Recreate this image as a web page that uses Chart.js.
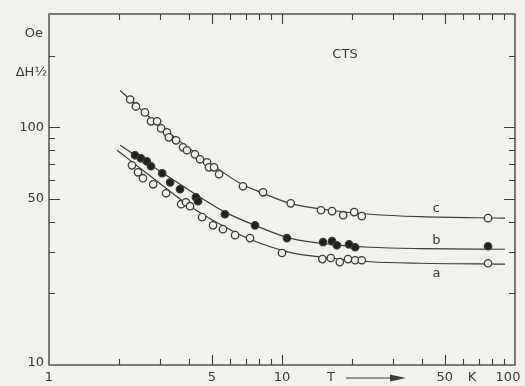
<!DOCTYPE html>
<html>
<head>
<meta charset="utf-8">
<script src="https://cdn.jsdelivr.net/npm/chart.js@4.4.1/dist/chart.umd.min.js"></script>
<style>
  html, body { margin: 0; padding: 0; background: #f3f1ec; }
  canvas { display: block; }
</style>
</head>
<body>
<canvas id="chart" width="525" height="386"></canvas>
<script>
  // linewidth ΔH½ (Oe) against temperature T (K), three samples a, b, c
  const cTemp = [2.23, 2.36, 2.58, 2.74, 2.91, 3.03, 3.21, 3.27, 3.51, 3.76, 3.91, 4.23, 4.45, 4.77, 4.86, 5.11, 5.37, 6.80, 8.29, 10.9, 14.7, 16.4, 18.3, 20.4, 22.0, 76.6];
  const cWidth = [131, 122.5, 115.6, 106, 106, 99, 95.3, 90.8, 88.2, 82.4, 80.1, 77.0, 73.4, 71.3, 67.9, 67.9, 63.5, 56.5, 53.3, 47.9, 44.8, 44.4, 42.7, 44.0, 42.3, 41.5];

  const bTemp = [2.34, 2.48, 2.63, 2.74, 3.06, 3.31, 3.65, 4.27, 4.36, 5.69, 7.66, 10.5, 15.0, 16.4, 17.2, 19.4, 20.6, 76.6];
  const bWidth = [76.3, 74.1, 71.9, 68.6, 64.1, 58.7, 54.9, 50.8, 48.9, 43.1, 38.7, 34.2, 32.9, 33.2, 31.9, 32.2, 31.3, 31.6];

  const aTemp = [2.27, 2.41, 2.53, 2.80, 3.18, 3.69, 3.87, 4.03, 4.54, 5.06, 5.58, 6.29, 7.29, 10.0, 14.9, 16.2, 17.7, 19.2, 20.6, 22.0, 76.6];
  const aWidth = [69.2, 64.7, 61.1, 57.6, 52.8, 47.5, 48.4, 46.6, 41.9, 38.7, 37.3, 35.2, 34.2, 29.6, 27.9, 28.2, 27.1, 27.9, 27.6, 27.6, 26.8];

  // smooth curves through each set
  const cFitTemp = [2.02, 2.71, 3.65, 4.45, 5.42, 6.60, 8.29, 10.8, 16.1, 23.9, 39.1, 90.6];
  const cFitWidth = [143, 110, 87.3, 75.5, 66.0, 58.2, 52.8, 47.9, 44.8, 43.1, 42.1, 41.5];
  const bFitTemp = [2.02, 3.0, 4.45, 5.69, 7.66, 10.8, 16.1, 23.9, 39.1, 90.6];
  const bFitWidth = [84.0, 65.3, 50.8, 44.0, 38.7, 34.2, 32.2, 31.3, 30.9, 30.7];
  const aFitTemp = [1.96, 2.80, 4.03, 5.42, 7.29, 10.8, 16.1, 23.9, 39.1, 90.6];
  const aFitWidth = [80.1, 61.1, 46.6, 39.1, 33.8, 29.8, 28.2, 27.2, 26.8, 26.6];

  const xLabels = [1, 5, 10, 50, 100];
  const xLongTicks = [5, 10, 50];
  const xMinorTicks = [2, 3, 4, 6, 7, 8, 9, 20, 30, 40, 60, 70, 80, 90];
  const yLabels = [10, 50, 100];
  const yLongTicks = [50, 100];
  const yMinorTicks = [20, 30, 40, 60, 70, 80, 90, 200];

  const curveNames = ["c", "b", "a"];
  const curveNameAt = [45.7, 33.5, 24.3];

  const paper = "#f3f1ec";
  const ink = "#3b3b3b";
  const font = "'DejaVu Sans', 'Liberation Sans', sans-serif";

  const pts = (xs, ys) => xs.map((v, i) => ({ x: v, y: ys[i] }));

  const fit = (xs, ys) => ({
    data: pts(xs, ys),
    borderColor: ink,
    borderWidth: 1.2,
    pointRadius: 0,
    cubicInterpolationMode: "monotone",
    showLine: true,
    order: 2
  });

  const marks = (xs, ys, filled) => ({
    data: pts(xs, ys),
    showLine: false,
    pointStyle: "circle",
    pointRadius: 3.7,
    borderWidth: 1.3,
    borderColor: ink,
    backgroundColor: filled ? "#1f1f1f" : paper,
    order: 1
  });

  const frame = {
    id: "frame",
    beforeDraw(chart) {
      const ctx = chart.ctx;
      ctx.save();
      ctx.fillStyle = paper;
      ctx.fillRect(0, 0, chart.width, chart.height);
      ctx.restore();
    },
    afterDraw(chart) {
      const { ctx, chartArea: a, scales: { x, y } } = chart;
      ctx.save();
      ctx.strokeStyle = ink;
      ctx.lineWidth = 1.3;
      ctx.strokeRect(a.left, a.top, a.right - a.left, a.bottom - a.top);

      ctx.lineWidth = 1.1;
      const xTick = (v, len) => {
        const px = Math.round(x.getPixelForValue(v)) + 0.5;
        ctx.beginPath();
        ctx.moveTo(px, a.bottom); ctx.lineTo(px, a.bottom - len);
        ctx.moveTo(px, a.top); ctx.lineTo(px, a.top + len);
        ctx.stroke();
      };
      const yTick = (v, len) => {
        const py = Math.round(y.getPixelForValue(v)) + 0.5;
        ctx.beginPath();
        ctx.moveTo(a.left, py); ctx.lineTo(a.left + len, py);
        ctx.moveTo(a.right, py); ctx.lineTo(a.right - len, py);
        ctx.stroke();
      };
      xMinorTicks.forEach((v) => xTick(v, 6));
      xLongTicks.forEach((v) => xTick(v, 10));
      yMinorTicks.forEach((v) => yTick(v, 6));
      yLongTicks.forEach((v) => yTick(v, 11));

      ctx.fillStyle = ink;
      ctx.font = `13px ${font}`;
      ctx.textBaseline = "middle";

      ctx.textAlign = "center";
      xLabels.forEach((v) => {
        let px = x.getPixelForValue(v);
        if (v === 100) px -= 7;
        ctx.fillText(String(v), px, a.bottom + 13);
      });
      ctx.fillText("T", 331, a.bottom + 13);
      ctx.fillText("K", 472, a.bottom + 13);

      // arrow after T
      ctx.lineWidth = 1.2;
      ctx.beginPath();
      ctx.moveTo(346, a.bottom + 13);
      ctx.lineTo(392, a.bottom + 13);
      ctx.stroke();
      ctx.beginPath();
      ctx.moveTo(406, a.bottom + 13);
      ctx.lineTo(390, a.bottom + 9.5);
      ctx.lineTo(390, a.bottom + 16.5);
      ctx.closePath();
      ctx.fill();

      ctx.textAlign = "right";
      yLabels.forEach((v) => {
        let py = y.getPixelForValue(v);
        if (v === 10) py -= 2;
        ctx.fillText(String(v), a.left - 5, py);
      });
      ctx.fillText("Oe", 43, 34);
      ctx.fillText("ΔH½", 47, 73);

      ctx.textAlign = "center";
      ctx.fillText("CTS", 345, 55);
      curveNames.forEach((n, i) => {
        ctx.fillText(n, x.getPixelForValue(46), y.getPixelForValue(curveNameAt[i]));
      });
      ctx.restore();
    }
  };

  new Chart(document.getElementById("chart"), {
    type: "scatter",
    data: {
      datasets: [
        fit(cFitTemp, cFitWidth),
        fit(bFitTemp, bFitWidth),
        fit(aFitTemp, aFitWidth),
        marks(cTemp, cWidth, false),
        marks(bTemp, bWidth, true),
        marks(aTemp, aWidth, false)
      ]
    },
    options: {
      responsive: false,
      animation: false,
      layout: { padding: { left: 49, right: 10, top: 14, bottom: 21 } },
      plugins: { legend: { display: false }, tooltip: { enabled: false } },
      scales: {
        x: { type: "logarithmic", min: 1, max: 100, display: false },
        y: { type: "logarithmic", min: 10, max: 300, display: false }
      }
    },
    plugins: [frame]
  });
</script>
</body>
</html>
